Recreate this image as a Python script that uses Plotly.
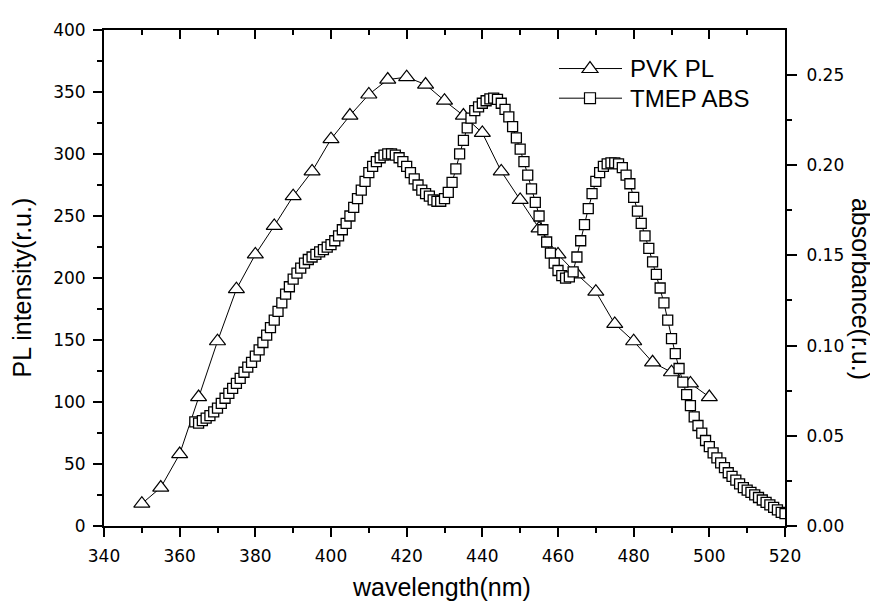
'''
    PVK photoluminescence vs TMEP absorbance, dual y axis line chart.
'''

import plotly.graph_objects as go

# PVK PL, every 5 nm (left axis, r.u.)
pl_wavelength = list(range(350, 505, 5))
pl_intensity = [18, 31, 58, 104, 149, 191, 219, 242, 266, 286,
                312, 331, 348, 360, 362, 356, 343, 331, 317, 286,
                263, 240, 219, 203, 189, 163, 149, 132, 124, 115,
                104]

# TMEP absorbance, every 1 nm from 364 to 520 (right axis, r.u.)
abs_wavelength = list(range(364, 521))
abs_values = [
    0.0577, 0.0570, 0.0584, 0.0598, 0.0612, 0.0632, 0.0653,          # 364-370
    0.0680, 0.0708, 0.0735, 0.0763, 0.0790, 0.0818, 0.0852, 0.0880,  # 371-378
    0.0907, 0.0941,                                                  # 379-380
    0.0976, 0.1017, 0.1058, 0.1100, 0.1141, 0.1189, 0.1237, 0.1285,  # 381-388
    0.1326, 0.1368, 0.1402, 0.1429, 0.1457, 0.1477, 0.1491, 0.1505,  # 389-396
    0.1519, 0.1532, 0.1546, 0.1560, 0.1581, 0.1608, 0.1642, 0.1677,  # 397-404
    0.1718, 0.1766, 0.1814, 0.1862, 0.1910, 0.1959, 0.1993, 0.2020,  # 405-412
    0.2041, 0.2055, 0.2062, 0.2062, 0.2055, 0.2041, 0.2020, 0.1993,  # 413-420
    0.1959, 0.1924, 0.1890, 0.1862, 0.1842, 0.1828, 0.1807, 0.1800,  # 421-428
    0.1800, 0.1814, 0.1849, 0.1904, 0.1979, 0.2062, 0.2137, 0.2206,  # 429-436
    0.2261, 0.2302, 0.2323, 0.2343, 0.2357, 0.2367, 0.2371, 0.2364,  # 437-444
    0.2343, 0.2309, 0.2268, 0.2213, 0.2151, 0.2089, 0.2020, 0.1945,  # 445-452
    0.1869, 0.1794, 0.1718, 0.1642, 0.1574, 0.1512, 0.1457, 0.1416,  # 453-460
    0.1388, 0.1374, 0.1381, 0.1409, 0.1491, 0.1581, 0.1670, 0.1759,  # 461-468
    0.1842, 0.1910, 0.1959, 0.1993, 0.2007, 0.2013, 0.2013, 0.2007,  # 469-476
    0.1986, 0.1945, 0.1897, 0.1821, 0.1745, 0.1677, 0.1608, 0.1539,  # 477-484
    0.1464, 0.1395, 0.1319, 0.1237, 0.1141, 0.1038, 0.0955, 0.0873,  # 485-492
    0.0797, 0.0728, 0.0667, 0.0605, 0.0557, 0.0515, 0.0474, 0.0440,  # 493-500
    0.0405, 0.0378, 0.0350, 0.0323, 0.0295, 0.0275, 0.0254, 0.0234,  # 501-508
    0.0213, 0.0199, 0.0186, 0.0172, 0.0158, 0.0144, 0.0131, 0.0117,  # 509-516
    0.0103, 0.0089, 0.0076, 0.0069,                                  # 517-520
]

x_ticks = [340, 360, 380, 400, 420, 440, 460, 480, 500, 520]
legend_names = ['PVK PL', 'TMEP ABS']

TEXT_FONT = "Liberation Sans, Arial, sans-serif"
TICK_FONT = "DejaVu Sans, sans-serif"

# the page body has an 8px margin, so the figure is made 8px smaller
# and the plot area still lands at x 104..785, y 24..526 in the window
BODY = 8
PLOT_L, PLOT_R, PLOT_T, PLOT_B = 104, 785, 24, 526


def px_x(p):
    return (p - PLOT_L) / (PLOT_R - PLOT_L)


def px_y(p):
    return (PLOT_B - p) / (PLOT_B - PLOT_T)


def legend_shapes():
    '''
        Origin style legend keys: long line with the marker in the middle.
    '''
    shapes = []
    rows = [63, 93]
    for row in rows:
        shapes.append(dict(type='line', xref='paper', yref='paper',
                           x0=px_x(559), x1=px_x(622),
                           y0=px_y(row), y1=px_y(row),
                           line=dict(color='black', width=1)))
    # triangle key
    cx, cy = 590, rows[0]
    path = 'M {},{} L {},{} L {},{} Z'.format(
        px_x(cx - 8), px_y(cy + 4), px_x(cx + 8), px_y(cy + 4),
        px_x(cx), px_y(cy - 7))
    shapes.append(dict(type='path', xref='paper', yref='paper', path=path,
                       fillcolor='white', line=dict(color='black', width=1.2)))
    # square key
    cx, cy = 590, rows[1]
    shapes.append(dict(type='rect', xref='paper', yref='paper',
                       x0=px_x(cx - 5.5), x1=px_x(cx + 5.5),
                       y0=px_y(cy + 5.5), y1=px_y(cy - 5.5),
                       fillcolor='white', line=dict(color='black', width=1.2)))
    return shapes, rows


def get_plot():
    fig = go.Figure()

    fig.add_trace(go.Scatter(
        x=pl_wavelength, y=pl_intensity,
        mode='lines+markers',
        name=legend_names[0],
        line=dict(color='black', width=1),
        marker=dict(symbol='triangle-up', size=14, color='white',
                    line=dict(color='black', width=1.2)),
        yaxis='y'))

    fig.add_trace(go.Scatter(
        x=abs_wavelength, y=abs_values,
        mode='lines+markers',
        name=legend_names[1],
        line=dict(color='black', width=1),
        marker=dict(symbol='square', size=10, color='white',
                    line=dict(color='black', width=1.3)),
        yaxis='y2'))

    # empty trace so the top mirror axis gets drawn
    fig.add_trace(go.Scatter(x=[], y=[], xaxis='x2', yaxis='y',
                             showlegend=False, hoverinfo='skip'))

    axis_common = dict(showgrid=False, zeroline=False, showline=True,
                       linecolor='black', linewidth=2,
                       tickcolor='black', tickwidth=1.5,
                       tickfont=dict(family=TICK_FONT, size=17, color='black'))

    shapes, rows = legend_shapes()
    legend_text = [dict(text=name, xref='paper', yref='paper',
                        x=px_x(628), y=px_y(row), xanchor='left',
                        yanchor='middle', showarrow=False,
                        font=dict(family=TEXT_FONT, size=24, color='black'))
                   for name, row in zip(legend_names, rows)]

    fig.update_layout(
        width=878 - BODY, height=603 - BODY,
        margin=dict(l=PLOT_L - BODY, r=878 - PLOT_R, t=PLOT_T - BODY,
                    b=603 - PLOT_B),
        paper_bgcolor='white', plot_bgcolor='white',
        font=dict(family=TEXT_FONT, color='black'),
        showlegend=False,
        xaxis=dict(range=[340, 520], tickvals=x_ticks, ticks='outside',
                   ticklen=9, ticklabelstandoff=5,
                   minor=dict(dtick=10, tick0=340, ticks='outside',
                              ticklen=5, tickcolor='black', tickwidth=1.5),
                   **axis_common),
        xaxis2=dict(range=[340, 520], overlaying='x', side='top',
                    anchor='y', tickvals=x_ticks, ticks='inside',
                    ticklen=9, showticklabels=False,
                    minor=dict(dtick=10, tick0=340, ticks='inside',
                               ticklen=5, tickcolor='black', tickwidth=1.5),
                    **axis_common),
        yaxis=dict(range=[0, 400], dtick=50, ticks='outside', ticklen=9,
                   ticklabelstandoff=4,
                   minor=dict(dtick=25, ticks='outside', ticklen=5,
                              tickcolor='black', tickwidth=1.5),
                   **axis_common),
        yaxis2=dict(range=[0, 0.2749], dtick=0.05, tickformat='.2f',
                    overlaying='y', side='right', anchor='x',
                    ticks='outside', ticklen=10, ticklabelstandoff=6,
                    minor=dict(dtick=0.025, ticks='outside', ticklen=5,
                               tickcolor='black', tickwidth=1.5),
                    **axis_common),
        shapes=shapes,
        annotations=legend_text + [
            dict(text='PL intensity(r.u.)', xref='paper', yref='paper',
                 x=0, y=0.481, xanchor='center', yanchor='middle',
                 xshift=-82, textangle=-90, showarrow=False,
                 font=dict(family=TEXT_FONT, size=25, color='black')),
            dict(text='absorbance(r.u.)', xref='paper', yref='paper',
                 x=1, y=0.478, xanchor='center', yanchor='middle',
                 xshift=76, textangle=90, showarrow=False,
                 font=dict(family=TEXT_FONT, size=25, color='black')),
            dict(text='wavelength(nm)', xref='paper', yref='paper',
                 x=0.495, y=0, xanchor='center', yanchor='top',
                 yshift=-45, showarrow=False,
                 font=dict(family=TEXT_FONT, size=25, color='black')),
        ],
    )
    return fig


fig = get_plot()
fig.write_html("out.html")
